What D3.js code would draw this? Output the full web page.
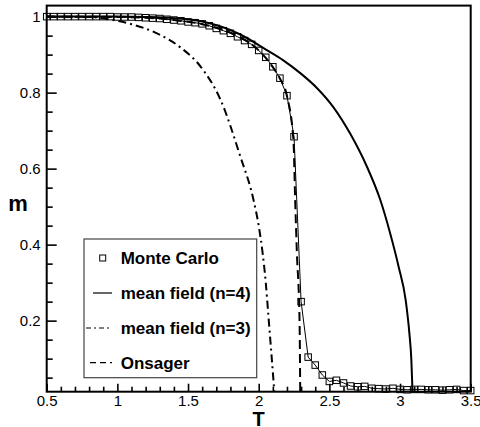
<!DOCTYPE html>
<html>
<head>
<meta charset="utf-8">
<title>m vs T</title>
<style>
    body { margin: 0; background: #fff; }
    svg { display: block; }
    text { font-family: "Liberation Sans", Arial, sans-serif; }
</style>
</head>
<body>
<main></main>
<script src="https://cdn.jsdelivr.net/npm/d3@7/dist/d3.min.js"></script>
<script>
    // data ================================
    // Monte Carlo points
    var mcT = [0.5, 0.55, 0.6, 0.65, 0.7, 0.75, 0.8, 0.85, 0.9, 0.95,
               1.0, 1.05, 1.1, 1.15, 1.2, 1.25, 1.3, 1.35, 1.4, 1.45,
               1.5, 1.55, 1.6, 1.65, 1.7, 1.75, 1.8, 1.85, 1.9, 1.95,
               2.0, 2.05, 2.1, 2.15, 2.2, 2.25, 2.3, 2.35, 2.4, 2.45,
               2.5, 2.55, 2.6, 2.65, 2.7, 2.75, 2.8, 2.85, 2.9, 2.95,
               3.0, 3.05, 3.1, 3.15, 3.2, 3.25, 3.3, 3.35, 3.4, 3.45, 3.5];
    var mcM = [1.0, 1.0, 1.0, 1.0, 1.0, 1.0, 1.0, 1.0, 1.0, 1.0,
               0.999, 0.999, 0.999, 0.998, 0.997, 0.996, 0.995, 0.993, 0.991, 0.989,
               0.986, 0.984, 0.981, 0.976, 0.969, 0.963, 0.956, 0.947, 0.937, 0.927,
               0.911, 0.893, 0.868, 0.838, 0.792, 0.684, 0.250, 0.104, 0.083, 0.057,
               0.040, 0.043, 0.036, 0.028, 0.026, 0.027, 0.022, 0.021, 0.020, 0.022,
               0.019, 0.018, 0.019, 0.019, 0.018, 0.018, 0.017, 0.018, 0.019, 0.016, 0.016];

    // mean field (n=4)
    var mf4T = [0.5, 1.0, 1.2, 1.4, 1.6, 1.87, 2.057, 2.174, 2.292, 2.41, 2.528, 2.646, 2.766,
                2.86, 2.93, 2.99, 3.04, 3.066, 3.08, 3.087, 3.09];
    var mf4M = [1.0, 1.0, 0.999, 0.996, 0.987, 0.953, 0.912, 0.885, 0.852, 0.813, 0.762, 0.693, 0.605,
                0.518, 0.43, 0.342, 0.254, 0.167, 0.097, 0.026, 0.0];

    // mean field (n=3)
    var mf3T = [0.5, 0.8, 0.97, 1.1, 1.28, 1.45, 1.59, 1.73, 1.87, 1.963, 2.0, 2.027, 2.05, 2.069, 2.105, 2.113];
    var mf3M = [1.0, 0.999, 0.991, 0.98, 0.956, 0.918, 0.868, 0.781, 0.632, 0.518, 0.45, 0.38, 0.30, 0.211, 0.04, 0.0];

    // Onsager
    var onsT = [0.5, 1.0, 1.2, 1.4, 1.6, 1.8, 2.0, 2.1, 2.15, 2.2, 2.246, 2.258, 2.27, 2.289, 2.294];
    var onsM = [1.0, 0.999, 0.997, 0.991, 0.980, 0.958, 0.911, 0.867, 0.837, 0.791, 0.673, 0.518, 0.38, 0.2, 0.0];

    // ticks
    var xTicks = [0.5, 1, 1.5, 2, 2.5, 3, 3.5];
    var xTickLabels = ["0.5", "1", "1.5", "2", "2.5", "3", "3.5"];
    var yTicks = [0.2, 0.4, 0.6, 0.8, 1];
    var yTickLabels = ["0.2", "0.4", "0.6", "0.8", "1"];

    var legendNames = ["Monte Carlo", "mean field (n=4)", "mean field (n=3)", "Onsager"];

    // layout ==============================
    var width = 480;
    var height = 427;
    var plotLeft = 46.7, plotRight = 470.7, plotTop = 5.6, plotBottom = 391.7;

    var svg = d3.select("main")
        .append("svg")
        .attr("width", width)
        .attr("height", height);

    var x = d3.scaleLinear().domain([0.5, 3.5]).range([plotLeft, plotRight]);
    var y = d3.scaleLinear().domain([0.013, 1.029]).range([plotBottom, plotTop]);

    svg.append("clipPath").attr("id", "plotclip")
        .append("rect")
        .attr("x", plotLeft).attr("y", plotTop)
        .attr("width", plotRight - plotLeft).attr("height", plotBottom - plotTop);

    // axes ================================
    var xMinor = d3.range(6, 35).map(function (d) { return d / 10; })
        .filter(function (d) { return Math.abs(d * 2 - Math.round(d * 2)) > 1e-6; });
    var yMinor = d3.range(1, 21).map(function (d) { return d / 20; })
        .filter(function (d) { return Math.abs(d * 5 - Math.round(d * 5)) > 1e-6; });

    var gx = svg.append("g").attr("transform", "translate(0," + plotBottom + ")");
    gx.append("g").call(d3.axisBottom(x).tickValues(xMinor).tickSize(-5).tickFormat(""));
    gx.append("g").call(d3.axisBottom(x).tickValues(xTicks).tickSize(-8).tickPadding(4)
        .tickFormat(function (d, i) { return xTickLabels[i]; }));

    var gy = svg.append("g").attr("transform", "translate(" + plotLeft + ",0)");
    gy.append("g").call(d3.axisLeft(y).tickValues(yMinor).tickSize(-6).tickFormat(""));
    gy.append("g").call(d3.axisLeft(y).tickValues(yTicks).tickSize(-10).tickPadding(6)
        .tickFormat(function (d, i) { return yTickLabels[i]; }));

    svg.selectAll(".domain").remove();
    svg.selectAll(".tick line").attr("stroke", "#000").attr("stroke-width", 1.6);
    svg.selectAll(".tick text")
        .attr("fill", "#000")
        .attr("font-size", "15px")
        .attr("font-family", "'Liberation Sans', Arial, sans-serif");

    // axis titles
    svg.append("text")
        .attr("x", (plotLeft + plotRight) / 2)
        .attr("y", 425.5)
        .attr("text-anchor", "middle")
        .attr("font-size", "20px")
        .attr("font-weight", "bold")
        .text("T");
    svg.append("text")
        .attr("x", 18)
        .attr("y", 211)
        .attr("text-anchor", "middle")
        .attr("font-size", "22px")
        .attr("font-weight", "bold")
        .text("m");

    // curves ==============================
    var plot = svg.append("g").attr("clip-path", "url(#plotclip)");

    function pairs(ts, ms) {
        return ts.map(function (t, i) { return [t, ms[i]]; });
    }

    var smooth = d3.line()
        .x(function (d) { return x(d[0]); })
        .y(function (d) { return y(d[1]); })
        .curve(d3.curveMonotoneX);
    var straight = d3.line()
        .x(function (d) { return x(d[0]); })
        .y(function (d) { return y(d[1]); });

    plot.append("path")
        .attr("d", smooth(pairs(mf3T, mf3M)))
        .attr("fill", "none").attr("stroke", "#000")
        .attr("stroke-width", 2)
        .attr("stroke-dasharray", "8,4,2,4");

    plot.append("path")
        .attr("d", smooth(pairs(onsT, onsM)))
        .attr("fill", "none").attr("stroke", "#000")
        .attr("stroke-width", 2)
        .attr("stroke-dasharray", "9,5");

    plot.append("path")
        .attr("d", smooth(pairs(mf4T, mf4M)))
        .attr("fill", "none").attr("stroke", "#000")
        .attr("stroke-width", 2);

    // Monte Carlo: thin line + hollow squares
    var mc = pairs(mcT, mcM);
    svg.append("path")
        .attr("d", straight(mc))
        .attr("fill", "none").attr("stroke", "#000")
        .attr("stroke-width", 1);

    var sq = 6.5;
    svg.selectAll("rect.mc")
        .data(mc)
        .enter()
        .append("rect")
        .attr("class", "mc")
        .attr("x", function (d) { return x(d[0]) - sq / 2; })
        .attr("y", function (d) { return y(d[1]) - sq / 2; })
        .attr("width", sq)
        .attr("height", sq)
        .attr("fill", "none")
        .attr("stroke", "#000")
        .attr("stroke-width", 1);

    // frame
    svg.append("rect")
        .attr("x", plotLeft).attr("y", plotTop)
        .attr("width", plotRight - plotLeft).attr("height", plotBottom - plotTop)
        .attr("fill", "none").attr("stroke", "#000")
        .attr("stroke-width", 2);

    // legend ==============================
    var lg = svg.append("g");
    lg.append("rect")
        .attr("x", 84).attr("y", 239)
        .attr("width", 172.7).attr("height", 138.7)
        .attr("fill", "#fff")
        .attr("stroke", "#444")
        .attr("stroke-width", 1.2);

    var rowY = [258, 293, 328, 362.7];
    lg.append("rect")
        .attr("x", 102.7 - 3).attr("y", rowY[0] - 3)
        .attr("width", 6).attr("height", 6)
        .attr("fill", "none").attr("stroke", "#000").attr("stroke-width", 1);
    lg.append("line")
        .attr("x1", 93).attr("x2", 112).attr("y1", rowY[1]).attr("y2", rowY[1])
        .attr("stroke", "#000").attr("stroke-width", 1.2);
    lg.append("line")
        .attr("x1", 86).attr("x2", 112).attr("y1", rowY[2]).attr("y2", rowY[2])
        .attr("stroke", "#000").attr("stroke-width", 1.2)
        .attr("stroke-dasharray", "5,3,2,3");
    lg.append("line")
        .attr("x1", 90).attr("x2", 112).attr("y1", rowY[3]).attr("y2", rowY[3])
        .attr("stroke", "#000").attr("stroke-width", 1.2)
        .attr("stroke-dasharray", "6,4");

    lg.selectAll("text")
        .data(legendNames)
        .enter()
        .append("text")
        .attr("x", 120.7)
        .attr("y", function (d, i) { return rowY[i] + 6; })
        .attr("font-size", "17px")
        .attr("font-weight", "bold")
        .text(function (d) { return d; });
</script>
</body>
</html>
